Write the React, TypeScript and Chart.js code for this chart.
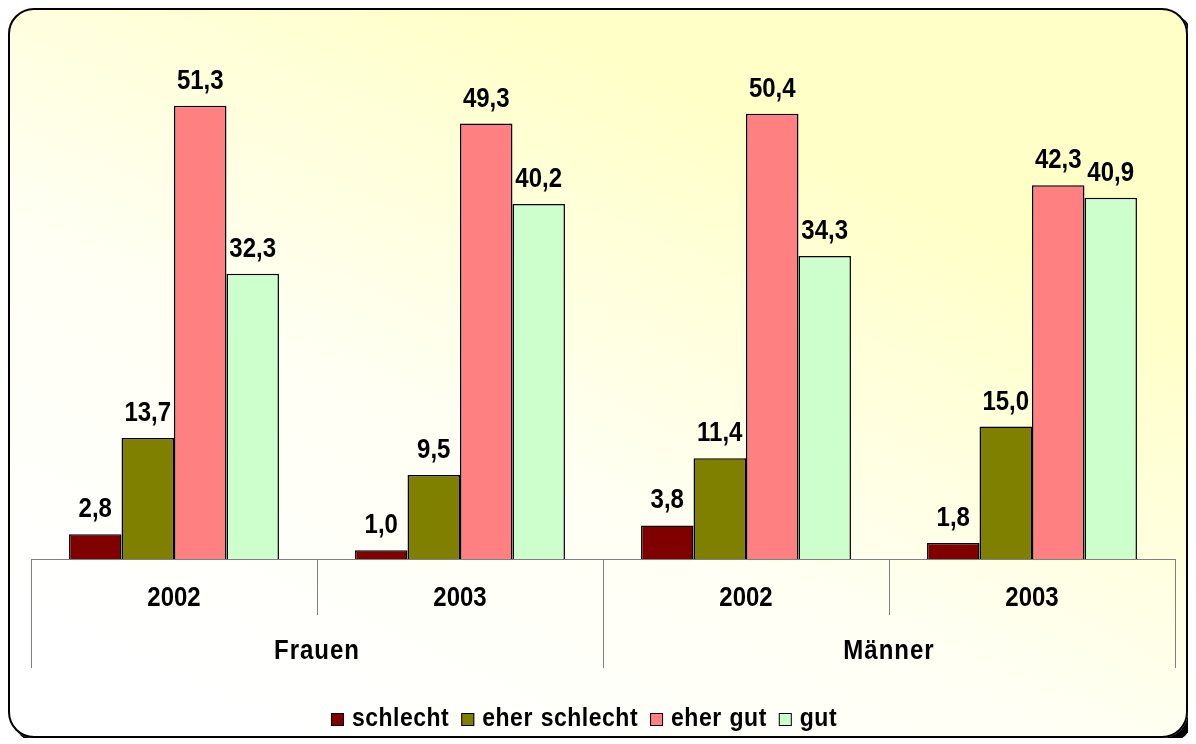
import React, { useEffect, useRef } from "react";
import { Chart, registerables } from "chart.js";

Chart.register(...registerables);

const years = ["2002", "2003", "2002", "2003"];
const groups = ["Frauen", "Männer"];
const seriesNames = ["schlecht", "eher schlecht", "eher gut", "gut"];
const schlecht = [2.8, 1.0, 3.8, 1.8];
const eherSchlecht = [13.7, 9.5, 11.4, 15.0];
const eherGut = [51.3, 49.3, 50.4, 42.3];
const gut = [32.3, 40.2, 34.3, 40.9];
const seriesColors = ["#800000", "#808000", "#FF8080", "#CCFFCC"];
const yMax = 60;

const FONT = '"Liberation Sans", Arial, sans-serif';
const STRETCH = 1.15;

const fmt = (v: number) => v.toFixed(1).replace(".", ",");

function drawText(ctx: CanvasRenderingContext2D, t: string, x: number, y: number) {
  ctx.save();
  ctx.translate(x, y);
  ctx.scale(1, STRETCH);
  ctx.fillText(t, 0, 0);
  ctx.restore();
}

const customDraw = {
  id: "customDraw",
  afterDraw(chart: any) {
    const ctx = chart.ctx as CanvasRenderingContext2D;
    const area = chart.chartArea;
    const xs = chart.scales.x;
    const step = xs.getPixelForValue(1) - xs.getPixelForValue(0);
    const boundary = (i: number) => xs.getPixelForValue(0) - step / 2 + i * step;
    ctx.save();

    // axis line
    ctx.strokeStyle = "#808080";
    ctx.lineWidth = 1;
    ctx.beginPath();
    ctx.moveTo(boundary(0), Math.round(area.bottom) + 0.5);
    ctx.lineTo(boundary(4), Math.round(area.bottom) + 0.5);
    ctx.stroke();

    // separators
    for (let i = 0; i <= years.length; i++) {
      const bx = Math.round(boundary(i)) + 0.5;
      const len = i % 2 === 0 ? 109 : 56;
      ctx.beginPath();
      ctx.moveTo(bx, area.bottom);
      ctx.lineTo(bx, area.bottom + len);
      ctx.stroke();
    }

    // year labels
    ctx.fillStyle = "#000";
    ctx.textAlign = "center";
    ctx.textBaseline = "alphabetic";
    ctx.font = `bold 24px ${FONT}`;
    years.forEach((y, i) => {
      drawText(ctx, y, xs.getPixelForValue(i), area.bottom + 47);
    });

    // group labels
    (ctx as any).letterSpacing = "1px";
    groups.forEach((g, gi) => {
      const cx = boundary(gi * 2 + 1);
      drawText(ctx, g, cx, area.bottom + 100);
    });
    (ctx as any).letterSpacing = "0px";

    // data labels
    ctx.font = `bold 24px ${FONT}`;
    chart.data.datasets.forEach((ds: any, di: number) => {
      const meta = chart.getDatasetMeta(di);
      meta.data.forEach((bar: any, i: number) => {
        drawText(ctx, fmt(ds.data[i]), bar.x, bar.y - 17);
      });
    });

    // legend
    ctx.font = `bold 23px ${FONT}`;
    (ctx as any).letterSpacing = "0.5px";
    (ctx as any).wordSpacing = "1px";
    ctx.textAlign = "left";
    const box = 13;
    const gapBoxText = 8;
    const gapItems = 12;
    const widths = seriesNames.map((n) => ctx.measureText(n).width);
    const total = widths.reduce((a, w) => a + box + gapBoxText + w, 0) + gapItems * (seriesNames.length - 1);
    let lx = 574 - total / 2;
    const baseY = 716;
    seriesNames.forEach((n, i) => {
      ctx.fillStyle = seriesColors[i];
      ctx.fillRect(lx, baseY - 13, box, box);
      ctx.strokeStyle = "#000";
      ctx.lineWidth = 1;
      ctx.strokeRect(lx + 0.5, baseY - 13 + 0.5, box - 1, box - 1);
      ctx.fillStyle = "#000";
      drawText(ctx, n, lx + box + gapBoxText, baseY);
      lx += box + gapBoxText + widths[i] + gapItems;
    });
    (ctx as any).letterSpacing = "0px";
    (ctx as any).wordSpacing = "0px";

    ctx.restore();
  },
};

export default function App() {
  const ref = useRef<HTMLCanvasElement | null>(null);
  useEffect(() => {
    if (!ref.current) return;
    const seriesData = [schlecht, eherSchlecht, eherGut, gut];
    const chart = new Chart(ref.current, {
      type: "bar",
      data: {
        labels: years,
        datasets: seriesNames.map((name, i) => ({
          label: name,
          data: seriesData[i],
          backgroundColor: seriesColors[i],
          borderColor: "#000000",
          borderWidth: 1.5,
          categoryPercentage: 0.734,
          barPercentage: 1,
        })),
      },
      options: {
        responsive: false,
        animation: false,
        layout: { padding: { left: 21, right: 11, top: 19, bottom: 177 } },
        plugins: {
          legend: { display: false },
          tooltip: { enabled: false },
        },
        scales: {
          x: { display: false },
          y: { display: false, min: 0, max: yMax },
        },
      },
      plugins: [customDraw],
    });
    return () => chart.destroy();
  }, []);

  return (
    <div
      style={{
        position: "relative",
        width: 1180,
        height: 730,
        boxSizing: "border-box",
        border: "2px solid #000",
        borderRadius: 26,
        boxShadow: "5px 5px 0 #000",
        background: "linear-gradient(205deg, #FFFFC8 25%, #FFFFF4 60%, #FFFFFF 90%)",
        overflow: "hidden",
      }}
    >
      <canvas ref={ref} width={1176} height={726} style={{ display: "block" }} />
    </div>
  );
}
